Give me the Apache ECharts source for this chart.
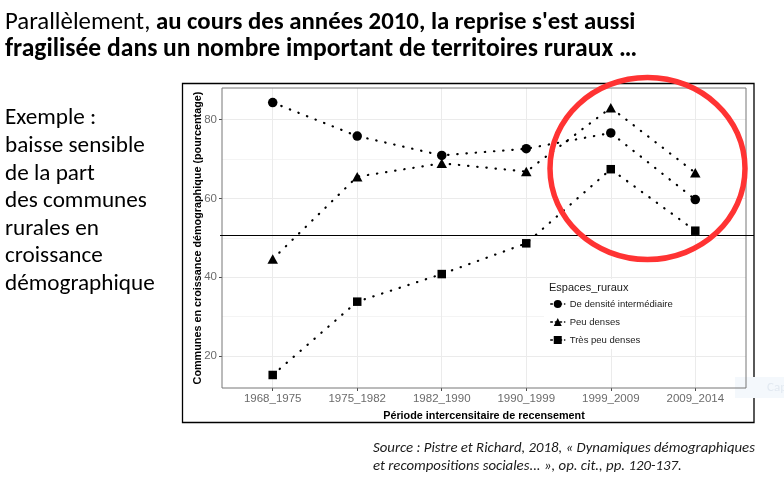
<!DOCTYPE html>
<html>
<head>
<meta charset="utf-8">
<script src="https://cdn.jsdelivr.net/npm/echarts@6/dist/echarts.min.js"></script>
<style>
html,body{margin:0;padding:0;background:#fff;}
#chart{width:784px;height:496px;}
</style>
</head>
<body>
<div id="chart"></div>
<script>
// ---- data ----
const periods = ['1968_1975', '1975_1982', '1982_1990', '1990_1999', '1999_2009', '2009_2014'];
const densiteIntermediaire = [84.3, 75.8, 70.9, 72.6, 76.6, 59.7];
const peuDenses = [44.6, 65.5, 68.9, 66.8, 83.0, 66.5];
const tresPeuDenses = [15.2, 33.8, 40.8, 48.6, 67.4, 51.8];
const seriesNames = ['De densité intermédiaire', 'Peu denses', 'Très peu denses'];
const yTicks = [20, 40, 60, 80];
const refValue = 50.6;

const titleRegular = 'Parallèlement, ';
const titleBold1 = 'au cours des années 2010, la reprise s\'est aussi';
const titleBold2 = 'fragilisée dans un nombre important de territoires ruraux …';
const sideText = ['Exemple :', 'baisse sensible', 'de la part', 'des communes', 'rurales en', 'croissance', 'démographique'];
const sourceLines = ['Source : Pistre et Richard, 2018, « Dynamiques démographiques', 'et recompositions sociales... », op. cit., pp. 120-137.'];

const slideFont = "Carlito, 'Liberation Sans Narrow', 'Liberation Sans', sans-serif";
const plotFont = "'Liberation Sans', Arial, sans-serif";

const chart = echarts.init(document.getElementById('chart'), null, {renderer: 'canvas'});

function toXY(arr) { return arr.map((v, i) => [i, v]); }

const lineStyle = {color: '#000', width: 2.2, type: [0.4, 8.8], cap: 'round'};

const xIdx = periods.map((p, i) => i);

const option = {
  animation: false,
  backgroundColor: '#fff',
  grid: {left: 222, right: 38, top: 88, bottom: 108, containLabel: false},
  xAxis: {
    type: 'value',
    min: -0.6, max: periods.length - 0.4,
    splitNumber: 6, minInterval: 1, maxInterval: 1,
    name: 'Période intercensitaire de recensement',
    nameLocation: 'middle', nameGap: 23, nameMoveOverlap: false,
    nameTextStyle: {fontFamily: plotFont, fontWeight: 'bold', fontSize: 10.8, color: '#000'},
    axisLine: {show: false, onZero: false},
    axisTick: {show: true, length: 3, lineStyle: {color: '#4d4d4d'}, customValues: xIdx},
    axisLabel: {
      customValues: xIdx,
      formatter: v => (Number.isInteger(v) && periods[v]) ? periods[v] : '',
      fontFamily: plotFont, fontSize: 11.5, color: '#6b6b6b', margin: 5
    },
    splitLine: {show: true, lineStyle: {color: '#ebebeb', width: 1}}
  },
  yAxis: {
    type: 'value',
    min: 11.9, max: 88,
    splitNumber: 4, minInterval: 20, maxInterval: 20,
    name: 'Communes en croissance démographique (pourcentage)',
    nameLocation: 'middle', nameGap: 18, nameRotate: 90, nameMoveOverlap: false,
    nameTextStyle: {fontFamily: plotFont, fontWeight: 'bold', fontSize: 10.8, color: '#000'},
    axisLine: {show: false, onZero: false},
    axisTick: {show: true, length: 3, lineStyle: {color: '#4d4d4d'}, customValues: yTicks},
    axisLabel: {
      customValues: yTicks,
      fontFamily: plotFont, fontSize: 11.5, color: '#6b6b6b', margin: 5
    },
    splitLine: {show: true, lineStyle: {color: '#ebebeb', width: 1}},
    minorTick: {show: false, splitNumber: 2},
    minorSplitLine: {show: true, lineStyle: {color: '#f4f4f4', width: 1}}
  },
  legend: {
    orient: 'vertical',
    left: 550, top: 299,
    padding: 0,
    itemWidth: 14, itemHeight: 10, itemGap: 8,
    z: 5,
    data: seriesNames.map(n => ({name: n})),
    textStyle: {fontFamily: plotFont, fontSize: 9.5, color: '#1a1a1a', padding: [0, 0, 0, 0]},
    itemStyle: {color: '#000'},
    lineStyle: {color: '#000', width: 1.5, type: [1.6, 3]}
  },
  series: [
    {name: seriesNames[0], type: 'line', data: toXY(densiteIntermediaire), symbol: 'circle', symbolSize: 9.5,
     itemStyle: {color: '#000'}, lineStyle: lineStyle, z: 3},
    {name: seriesNames[1], type: 'line', data: toXY(peuDenses), symbol: 'triangle', symbolSize: [10.5, 9.5],
     itemStyle: {color: '#000'}, lineStyle: lineStyle, z: 3},
    {name: seriesNames[2], type: 'line', data: toXY(tresPeuDenses), symbol: 'rect', symbolSize: 8.5,
     itemStyle: {color: '#000'}, lineStyle: lineStyle, z: 3}
  ]
};
chart.setOption(option);

// decorative slide elements
const refY = chart.convertToPixel({yAxisIndex: 0}, refValue);
const gfx = [];
// titles
gfx.push({type: 'text', left: 5, top: 10, z: 10, style: {
  text: '{r|' + titleRegular + '}{b|' + titleBold1 + '}',
  rich: {
    r: {fontFamily: slideFont, fontSize: 24.8, color: '#000'},
    b: {fontFamily: slideFont, fontSize: 24.8, fontWeight: 'bold', color: '#000'}
  }
}});
gfx.push({type: 'text', left: 5, top: 37, z: 10, style: {
  text: titleBold2, fontFamily: slideFont, fontSize: 25.6, fontWeight: 'bold', fill: '#000'
}});
// side text
sideText.forEach((t, i) => {
  gfx.push({type: 'text', left: 5, top: 107 + i * 27.6, z: 10, style: {
    text: t, fontFamily: slideFont, fontSize: 23.2, fill: '#000'
  }});
});
// source
sourceLines.forEach((t, i) => {
  gfx.push({type: 'text', left: 373, top: 441 + i * 17.5, z: 10, style: {
    text: t, fontFamily: slideFont, fontSize: 14.8, fontStyle: 'italic', fill: '#1a1a1a'
  }});
});
// outer image border
gfx.push({type: 'rect', z: 1, shape: {x: 182.5, y: 83.5, width: 571.5, height: 339}, style: {fill: null, stroke: '#000', lineWidth: 1.3}});
// panel border
gfx.push({type: 'rect', z: 6, shape: {x: 222, y: 88, width: 524, height: 300}, style: {fill: null, stroke: '#777', lineWidth: 1}});
// legend background + title
gfx.push({type: 'rect', z: 1, shape: {x: 544, y: 279, width: 136, height: 70}, style: {fill: '#fff'}});
gfx.push({type: 'text', left: 549, top: 282, z: 10, style: {
  text: 'Espaces_ruraux', fontFamily: plotFont, fontSize: 11, fill: '#1a1a1a'
}});
// horizontal reference line
gfx.push({type: 'line', z: 8, shape: {x1: 220, y1: Math.round(refY) + 0.5, x2: 754, y2: Math.round(refY) + 0.5}, style: {stroke: '#000', lineWidth: 1.2}});
// red highlight ellipse
gfx.push({type: 'ellipse', z: 9, shape: {cx: 647.5, cy: 168.5, rx: 97.5, ry: 91}, style: {fill: null, stroke: '#ff3333', lineWidth: 5.5}});
// faint caption box
gfx.push({type: 'rect', z: 1, shape: {x: 735, y: 377, width: 49, height: 21}, style: {fill: '#f4f8fc'}});
gfx.push({type: 'text', left: 767, top: 381, z: 2, style: {text: 'Cap', fontFamily: slideFont, fontSize: 13, fill: '#e2e9f1'}});

chart.setOption({graphic: gfx});
</script>
</body>
</html>
